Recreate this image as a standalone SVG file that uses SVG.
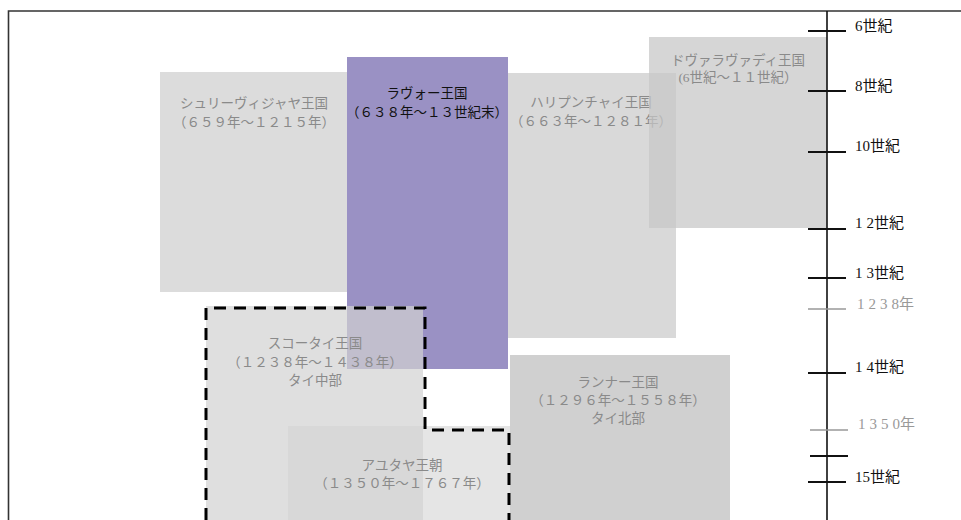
<svg xmlns="http://www.w3.org/2000/svg" width="961" height="520" viewBox="0 0 961 520">
<style>
text{font-family:"Liberation Serif","Noto Sans CJK JP",serif;font-size:13.5px;text-anchor:middle;fill:#8a8a8a}
.dark{fill:#111}
.ax{text-anchor:start;fill:#111;font-size:15px}
.axg{text-anchor:start;fill:#999;font-size:15px}
.sp{letter-spacing:4px}
.tick{stroke:#111;stroke-width:1.8}
.tickg{stroke:#999;stroke-width:1.3}
</style>
<rect width="961" height="520" fill="#fff"/>
<path d="M8.5,520 V11 H961" fill="none" stroke="#333" stroke-width="1.6"/>
<g id="shrivijaya">
<rect x="160" y="72" width="187" height="220" fill="#dcdcdc"/>
<text x="254" y="108">シュリーヴィジャヤ王国</text>
<text x="254" y="127">（６５９年～１２１５年）</text>
</g>
<g id="haripunchai">
<rect x="508" y="73" width="168" height="265" fill="#d9d9d9"/>
<text x="591" y="107">ハリプンチャイ王国</text>
<text x="591" y="126">（６６３年～１２８１年）</text>
</g>
<g id="dvaravati">
<rect x="649" y="37" width="178" height="191" fill="#c6c6c6" fill-opacity="0.72"/>
<text x="738" y="65">ドヴァラヴァディ王国</text>
<text x="738" y="82">(6世紀～１１世紀）</text>
</g>
<g id="lavo">
<rect x="347" y="57" width="161" height="312" fill="#9a91c4"/>
<text class="dark" x="427" y="98" font-size="14">ラヴォー王国</text>
<text class="dark" x="427" y="117">（６３８年～１３世紀末）</text>
</g>
<g id="lanna">
<rect x="510" y="355" width="220" height="165" fill="#d0d0d0"/>
<text x="618" y="387">ランナー王国</text>
<text x="618" y="405">（１２９６年～１５５８年）</text>
<text x="618" y="423">タイ北部</text>
</g>
<g id="sukhothai">
<rect x="206" y="306" width="217" height="214" fill="#d2d2d2" fill-opacity="0.7"/>
<text x="315" y="348">スコータイ王国</text>
<text x="315" y="367">（１２３８年～１４３８年）</text>
<text x="315" y="385">タイ中部</text>
</g>
<g id="ayutthaya">
<rect x="288" y="426" width="222" height="94" fill="#d4d4d4" fill-opacity="0.6"/>
<text x="402" y="470">アユタヤ王朝</text>
<text x="402" y="488">（１３５０年～１７６７年）</text>
</g>
<g id="connectors">
<path d="M206,520 V308 H425 V430 H509 V520" fill="none" stroke="#000" stroke-width="3" stroke-dasharray="12,8"/>
</g>
<g id="axis">
<line x1="827" y1="11" x2="827" y2="520" stroke="#111" stroke-width="1.6"/>
<line class="tick" x1="808" y1="31" x2="846" y2="31"/>
<line class="tick" x1="808" y1="91" x2="846" y2="91"/>
<line class="tick" x1="808" y1="152" x2="846" y2="152"/>
<line class="tick" x1="808" y1="229" x2="846" y2="229"/>
<line class="tick" x1="808" y1="278" x2="846" y2="278"/>
<line class="tickg" x1="808" y1="309" x2="846" y2="309"/>
<line class="tick" x1="808" y1="373" x2="846" y2="373"/>
<line class="tickg" x1="810" y1="430" x2="848" y2="430"/>
<line class="tick" x1="810" y1="456" x2="848" y2="456"/>
<line class="tick" x1="808" y1="482" x2="846" y2="482"/>
<text class="ax" x="855" y="31">6世紀</text>
<text class="ax" x="855" y="91">8世紀</text>
<text class="ax" x="855" y="151">10世紀</text>
<text class="ax" x="855" y="228"><tspan class="sp">1</tspan>2世紀</text>
<text class="ax" x="855" y="278"><tspan class="sp">1</tspan>3世紀</text>
<text class="axg" x="857" y="309"><tspan class="sp">123</tspan>8年</text>
<text class="ax" x="855" y="372"><tspan class="sp">1</tspan>4世紀</text>
<text class="axg" x="858" y="429"><tspan class="sp">135</tspan>0年</text>
<text class="ax" x="855" y="482">15世紀</text>
</g>
</svg>
